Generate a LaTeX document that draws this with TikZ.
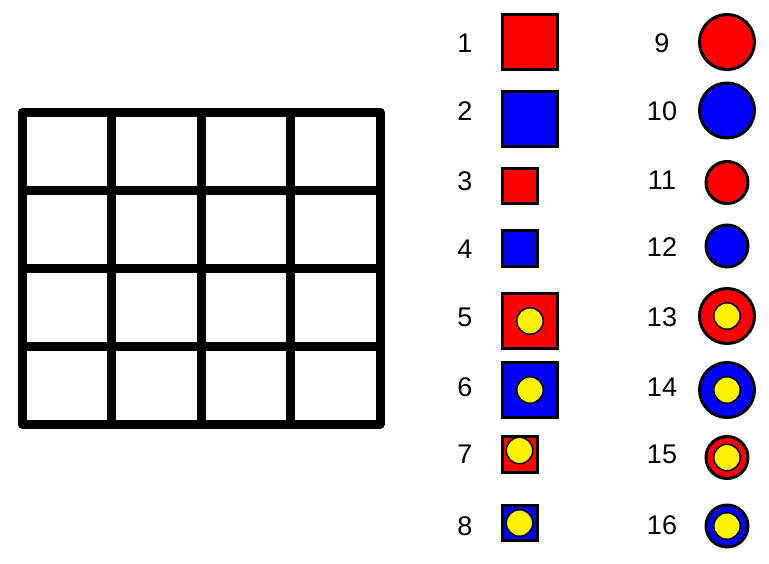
\documentclass[tikz,border=0pt]{standalone}
\usepackage{fontspec}
\setmainfont{Liberation Sans}
\begin{document}
\begin{tikzpicture}[x=1pt,y=-1pt,
        num/.style={font=\fontsize{27}{30}\selectfont},
        bigsq/.style={draw=black,line width=3pt,minimum size=55pt,inner sep=0pt},
        smallsq/.style={draw=black,line width=3pt,minimum size=35.5pt,inner sep=0pt},
        bigdisc/.style={circle,draw=black,line width=3pt,minimum size=55pt,inner sep=0pt},
        smalldisc/.style={circle,draw=black,line width=3pt,minimum size=42pt,inner sep=0pt},
        dot/.style={circle,draw=black,fill=yellow,line width=1.5pt,minimum size=26.5pt,inner sep=0pt}]
            \useasboundingbox (0,0) rectangle (769,563);

            % the 4x4 board
            \draw[line width=9pt,line join=round] (22,112) rectangle (380,424);
            \draw[line width=9pt] (111.5,112) -- (111.5,424);
            \draw[line width=9pt] (201,112) -- (201,424);
            \draw[line width=9pt] (290.5,112) -- (290.5,424);
            \draw[line width=9pt] (22,190) -- (380,190);
            \draw[line width=9pt] (22,268) -- (380,268);
            \draw[line width=9pt] (22,346) -- (380,346);

            % squares
            \node[num] (n1) at (465,43) {1};
            \node[num] (n2) at (465,111) {2};
            \node[num] (n3) at (465,181) {3};
            \node[num] (n4) at (465,249) {4};
            \node[num] (n5) at (465,317) {5};
            \node[num] (n6) at (465,387) {6};
            \node[num] (n7) at (465,454) {7};
            \node[num] (n8) at (465,526) {8};

            \node[bigsq,fill=red] (sq1) at (530,42) {};
            \node[bigsq,fill=blue] (sq2) at (530,118.5) {};
            \node[smallsq,fill=red] (sq3) at (520,186) {};
            \node[smallsq,fill=blue] (sq4) at (520,248.5) {};
            \node[bigsq,fill=red] (sq5) at (530,321) {};
            \node[dot] (d5) at (530,321) {};
            \node[bigsq,fill=blue] (sq6) at (530,390) {};
            \node[dot] (d6) at (530,390) {};
            \node[smallsq,fill=red] (sq7) at (520,454.5) {};
            \node[dot] (d7) at (519.5,450.5) {};
            \node[smallsq,fill=blue] (sq8) at (520,523) {};
            \node[dot] (d8) at (519.5,523) {};

            % circles
            \node[num] (n9) at (662,43) {9};
            \node[num] (n10) at (662,111) {10};
            \node[num] (n11) at (662,180) {11};
            \node[num] (n12) at (662,247) {12};
            \node[num] (n13) at (662,317) {13};
            \node[num] (n14) at (662,387) {14};
            \node[num] (n15) at (662,454) {15};
            \node[num] (n16) at (662,525) {16};

            \node[bigdisc,fill=red] (c9) at (727,42) {};
            \node[bigdisc,fill=blue] (c10) at (727,110.5) {};
            \node[smalldisc,fill=red] (c11) at (727,182.5) {};
            \node[smalldisc,fill=blue] (c12) at (727,246) {};
            \node[bigdisc,fill=red] (c13) at (727,316) {};
            \node[dot] (d13) at (727,316) {};
            \node[bigdisc,fill=blue] (c14) at (727,390) {};
            \node[dot] (d14) at (727,390) {};
            \node[smalldisc,fill=red] (c15) at (727,457.5) {};
            \node[dot] (d15) at (727,457.5) {};
            \node[smalldisc,fill=blue] (c16) at (727,526) {};
            \node[dot] (d16) at (727,526) {};
\end{tikzpicture}
\end{document}
